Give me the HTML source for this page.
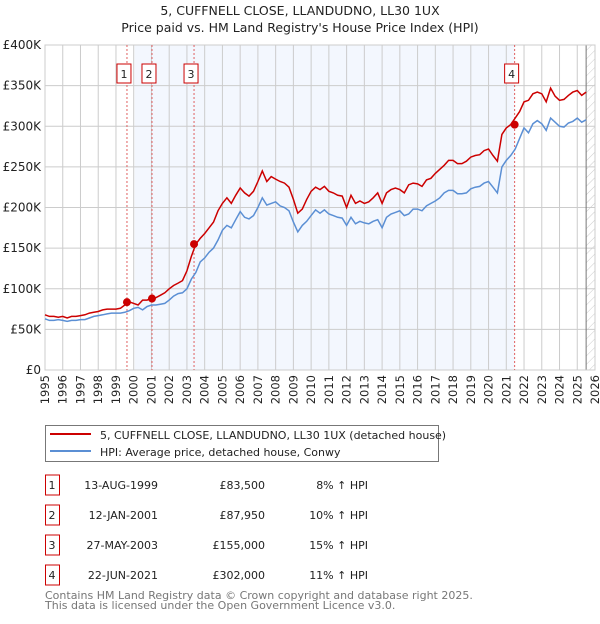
<!DOCTYPE html>
<html><head><meta charset="utf-8">
<style>
body{margin:0;background:#fff;font-family:"DejaVu Sans","Liberation Sans",sans-serif;}
svg text{font-family:"DejaVu Sans","Liberation Sans",sans-serif;}
</style></head>
<body>
<svg id="c" width="600" height="620" xmlns="http://www.w3.org/2000/svg">
<defs><pattern id="hatch" width="6" height="6" patternUnits="userSpaceOnUse" patternTransform="rotate(45)"><line x1="0" y1="0" x2="0" y2="6" stroke="#ccc" stroke-width="1"/></pattern></defs>
<text x="300" y="15" text-anchor="middle" font-size="12.5" fill="#222">5, CUFFNELL CLOSE, LLANDUDNO, LL30 1UX</text>
<text x="300" y="32" text-anchor="middle" font-size="12.5" fill="#222">Price paid vs. HM Land Registry's House Price Index (HPI)</text>
<g id="plot"></g>
<g>
<rect x="45.5" y="425.5" width="393" height="36" fill="#fff" stroke="#777"/>
<line x1="50" y1="434" x2="91" y2="434" stroke="#cc0000" stroke-width="2"/>
<text x="100" y="439" font-size="11" fill="#222">5, CUFFNELL CLOSE, LLANDUDNO, LL30 1UX (detached house)</text>
<line x1="50" y1="451" x2="91" y2="451" stroke="#5b8fd4" stroke-width="2"/>
<text x="100" y="456" font-size="11" fill="#222">HPI: Average price, detached house, Conwy</text>
</g>
<g id="table" font-size="11" fill="#222"></g>
<text x="45" y="599" font-size="11" fill="#777">Contains HM Land Registry data © Crown copyright and database right 2025.</text>
<text x="45" y="609" font-size="11" fill="#777">This data is licensed under the Open Government Licence v3.0.</text>
</svg>
<script>
const hpiStart = 1995;
const hpiValues = [63,61,61,62, 61,60,61,61, 62,62,64,66, 67,68,69,70, 70,70,71,73, 76,77,74,78, 80,80,81,82, 86,91,94,95, 100,112,120,133, 138,145,150,160, 172,178,175,185, 195,188,186,190, 200,212,203,205, 207,202,200,196, 182,170,178,183, 190,197,193,197, 192,190,188,187, 178,188,180,183, 181,180,183,185, 175,188,192,194, 196,190,192,198, 198,196,202,205, 208,212,218,221, 221,217,217,218, 223,225,226,230, 232,225,218,250, 258,264,272,285, 298,292,303,307, 303,295,310,305, 300,299,304,306, 310,305,308];
const propValues = [68,66,66,65, 66,64,66,66, 67,68,70,71, 72,74,75,75, 75,76,80,84, 82,80,86,86, 88,89,92,95, 100,104,107,110, 122,140,155,162, 168,175,182,196, 205,212,205,215, 224,218,214,220, 232,245,232,238, 235,232,230,225, 210,193,198,210, 220,225,222,226, 220,218,215,214, 200,215,205,208, 205,207,212,218, 205,218,222,224, 222,218,228,230, 229,226,234,236, 242,247,252,258, 258,254,254,257, 262,264,265,270, 272,264,257,290, 298,302,310,318, 330,332,340,342, 340,330,347,337, 332,333,338,342, 344,338,342];
const saleLabels = ["1","2","3","4"];
const saleDates = [1999.62, 2001.03, 2003.4, 2021.47];
const salePrices = [83.5, 87.95, 155, 302];
const saleDateText = ["13-AUG-1999","12-JAN-2001","27-MAY-2003","22-JUN-2021"];
const salePriceText = ["£83,500","£87,950","£155,000","£302,000"];
const saleHpiText = ["8% ↑ HPI","10% ↑ HPI","15% ↑ HPI","11% ↑ HPI"];
const yTicks = [0,50,100,150,200,250,300,350,400];
const yTickLabels = ["£0","£50K","£100K","£150K","£200K","£250K","£300K","£350K","£400K"];
const xTicks = [1995,1996,1997,1998,1999,2000,2001,2002,2003,2004,2005,2006,2007,2008,2009,2010,2011,2012,2013,2014,2015,2016,2017,2018,2019,2020,2021,2022,2023,2024,2025,2026];

const NS="http://www.w3.org/2000/svg";
const X0=45,X1=595,Y0=370,Y1=45;
const xs=t=>X0+(t-1995)*(X1-X0)/31;
const ys=v=>Y0-v*(Y0-Y1)/400;
const plot=document.getElementById('plot');
function mk(tag,attrs,parent){const e=document.createElementNS(NS,tag);for(const k in attrs)e.setAttribute(k,attrs[k]);(parent||plot).appendChild(e);return e;}

let r=mk('rect',{x:xs(2000.05),y:Y1,width:xs(2021.47)-xs(2000.05),height:Y0-Y1,fill:'#eef3fd',opacity:0.7});


let h=mk('rect',{x:xs(2025.5),y:Y1,width:X1-xs(2025.5),height:Y0-Y1,fill:'url(#hatch)'});


xTicks.forEach(t=>{
  let l=mk('line',{x1:xs(t),x2:xs(t),y1:Y1,y2:Y0,stroke:'#ccc','stroke-width':1});
  
  
  let tx=mk('text',{x:0,y:0,'font-size':11.5,fill:'#222','text-anchor':'end',transform:`translate(${xs(t)+4},${Y0+5}) rotate(-90)`});
  tx.textContent=t;
  
  
});
yTicks.forEach((v,i)=>{
  let l=mk('line',{x1:X0,x2:X1,y1:ys(v),y2:ys(v),stroke:'#ccc','stroke-width':1});
  
  
  let tx=mk('text',{x:X0-4,y:ys(v)+4,'font-size':12,fill:'#222','text-anchor':'end'});
  tx.textContent=yTickLabels[i];
  
  
});
let bl=mk('line',{x1:xs(2025.5),x2:xs(2025.5),y1:Y1,y2:Y0,stroke:'#777','stroke-width':1});


let fr=mk('rect',{x:X0,y:Y1,width:X1-X0,height:Y0-Y1,fill:'none',stroke:'#ccc'});



saleDates.forEach((d,i)=>{
  let l=mk('line',{x1:xs(d),x2:xs(d),y1:Y1,y2:Y0,stroke:'#e06060','stroke-width':1,'stroke-dasharray':'2,2'});
  
  
  let b=mk('rect',{x:xs(d)-10,y:64,width:14,height:19,fill:'#fff',stroke:'#cc0000'});
  
  
  let t=mk('text',{x:xs(d)-3,y:78,'font-size':11,fill:'#222','text-anchor':'middle'});
  t.textContent=saleLabels[i];
  
  
});
function pathFor(vals){return vals.map((v,i)=>(i?'L':'M')+xs(hpiStart+i*0.25).toFixed(1)+','+ys(v).toFixed(1)).join('');}
let hp=mk('path',{d:pathFor(hpiValues),fill:'none',stroke:'#5b8fd4','stroke-width':1.5});


let pp=mk('path',{d:pathFor(propValues),fill:'none',stroke:'#cc0000','stroke-width':1.5});


saleDates.forEach((d,i)=>{
  let c=mk('circle',{cx:xs(d),cy:ys(salePrices[i]),r:4,fill:'#cc0000'});
  
  
});
const tb=document.getElementById('table');
saleLabels.forEach((lab,i)=>{
  const y=483+i*30;
  let b=mk('rect',{x:45.5,y:y-8,width:14,height:20,fill:'#fff',stroke:'#cc0000'},tb);
  
  
  const cells=[[52,lab,'middle'],[158,saleDateText[i],'end'],[265,salePriceText[i],'end'],[368,saleHpiText[i],'end']];
  cells.forEach(c=>{
    let t=mk('text',{x:c[0],y:y+6,'text-anchor':c[2],'font-size':11,fill:'#222'},tb);
    t.textContent=c[1];
    
    
  });
});
</script>
</body></html>
